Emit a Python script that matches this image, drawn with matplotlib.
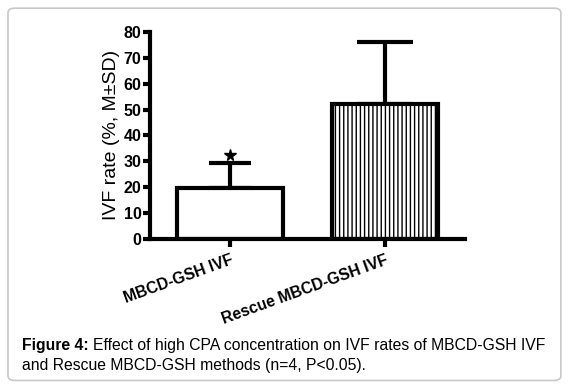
import matplotlib
matplotlib.use("Agg")
import matplotlib.pyplot as plt
from matplotlib.patches import FancyBboxPatch

groups = ["MBCD-GSH IVF", "Rescue MBCD-GSH IVF"]
means = [19.8, 52.1]
sds = [9.4, 24.0]
hatches = ["", "||||"]
star_y = 32.6

plt.rcParams["font.family"] = ["Liberation Sans", "DejaVu Sans"]
plt.rcParams["hatch.linewidth"] = 1.0

fig = plt.figure(figsize=(5.7, 3.89), dpi=100)

# rounded frame around figure + caption
frame = FancyBboxPatch((0.014, 0.022), 0.97, 0.957,
                       boxstyle="round,pad=0,rounding_size=0.012",
                       transform=fig.transFigure, facecolor="white",
                       edgecolor="#c8c8c8", linewidth=1.2, zorder=-5)
fig.patches.append(frame)

ax = fig.add_axes([0.263, 0.386, 0.553, 0.532])
lw = 3.0
caps = [15, 20]
xpos = list(range(len(groups)))
for i in xpos:
    ax.bar(i, means[i], width=0.68, color="white", edgecolor="black",
           linewidth=lw, hatch=hatches[i], zorder=2)
    ax.errorbar(i, means[i], yerr=[[0], [sds[i]]], fmt="none",
                ecolor="black", elinewidth=lw, capsize=caps[i], capthick=lw, zorder=1)

ax.plot(0, star_y, marker="*", color="black", markersize=8.5, linestyle="none")

ax.set_xlim(-0.516, 1.516)
ax.set_ylim(0, 80)
ax.set_yticks(range(0, 81, 10))
ax.set_xticks(xpos)
ax.set_xticklabels(groups, rotation=20, ha="right", rotation_mode="anchor",
                   fontweight="bold", fontsize=11.3)
for lab in ax.get_yticklabels():
    lab.set_fontweight("bold")
    lab.set_fontsize(11.5)
ax.tick_params(axis="both", width=lw, length=5, pad=1)
ax.tick_params(axis="x", length=6, pad=4)
ax.spines["top"].set_visible(False)
ax.spines["right"].set_visible(False)
ax.spines["left"].set_linewidth(lw)
ax.spines["bottom"].set_linewidth(lw)
ax.set_ylabel("IVF rate (%, M\u00b1SD)", fontsize=14, labelpad=3)

# caption
r = fig.canvas.get_renderer()
t1 = fig.text(0.039, 0.1, "Figure 4:", fontweight="bold", fontsize=11.3)
bb = t1.get_window_extent(r)
x2 = (bb.x1 + 4) / fig.bbox.width
fig.text(x2, 0.1, "Effect of high CPA concentration on IVF rates of MBCD-GSH IVF",
         fontsize=11.3)
fig.text(0.039, 0.05, "and Rescue MBCD-GSH methods (n=4, P<0.05).", fontsize=11.3)

fig.savefig("out.png", dpi=100)
